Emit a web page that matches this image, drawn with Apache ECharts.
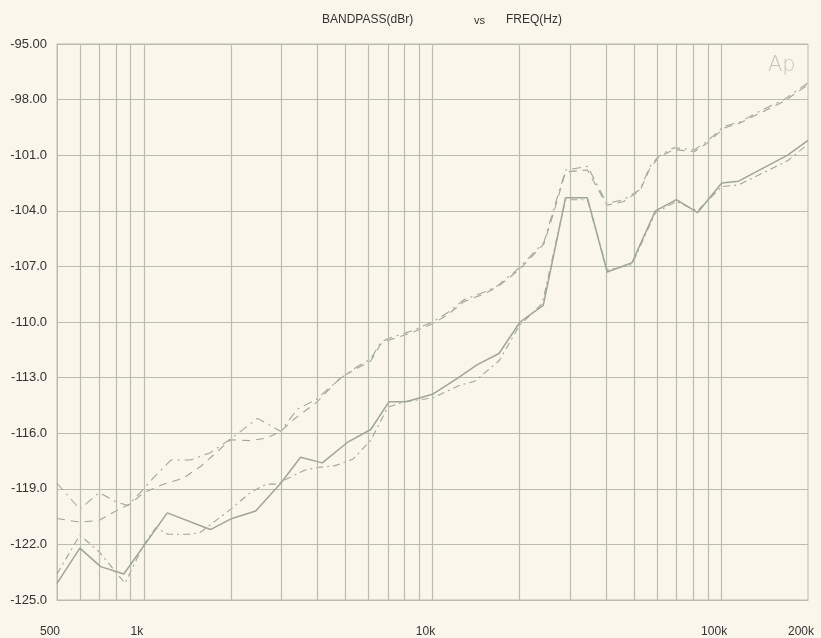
<!DOCTYPE html>
<html><head><meta charset="utf-8">
<script src="https://cdn.jsdelivr.net/npm/echarts@6/dist/echarts.min.js"></script>
<style>html,body{margin:0;padding:0;background:#faf6eb;}#c{width:821px;height:638px;}</style>
</head><body><div id="c"></div>
<script>
// ---- axis ticks / grid ----
const freqGrid = [600,700,800,900,1000,2000,3000,4000,5000,6000,7000,8000,9000,10000,20000,30000,40000,50000,60000,70000,80000,90000,100000];
const xTickValues = [500,1000,10000,100000,200000];
const xTickLabels = ["500","1k","10k","100k","200k"];
const yTickValues = [-125,-122,-119,-116,-113,-110,-107,-104,-101,-98,-95];
const yTickLabels = ["-125.0","-122.0","-119.0","-116.0","-113.0","-110.0","-107.0","-104.0","-101.0","-98.00","-95.00"];

// ---- series: solid trace ----
const solidF = [500,600,708,852,1205,1700,2020,2440,2980,3490,4150,5070,6110,7070,8100,10000,12300,14300,17000,20100,24200,28900,34400,40300,49100,59200,70000,82800,100500,115000,170000,200000];
const solidV = [-124.1,-122.2,-123.2,-123.6,-120.3,-121.2,-120.6,-120.2,-118.7,-117.3,-117.6,-116.5,-115.8,-114.3,-114.3,-113.9,-113.0,-112.3,-111.7,-110.0,-109.1,-103.3,-103.3,-107.3,-106.8,-104.0,-103.4,-104.1,-102.5,-102.4,-101.0,-100.2];

// ---- series: lower dash-dot trace ----
const lowerF = [500,600,700,860,1000,1100,1210,1450,1570,2000,2340,2650,2900,3050,3600,4000,4600,5300,6100,7000,8000,10000,12500,14000,17000,20000,24000,28900,34400,40300,49100,59200,70000,82800,100500,115000,170000,200000];
const lowerV = [-123.6,-121.5,-122.4,-124.1,-122.0,-121.1,-121.45,-121.45,-121.35,-120.1,-119.2,-118.75,-118.75,-118.55,-118.0,-117.85,-117.75,-117.4,-116.4,-114.6,-114.3,-114.1,-113.4,-113.2,-112.1,-110.2,-109.0,-103.4,-103.4,-107.2,-106.9,-104.1,-103.5,-104.0,-102.7,-102.6,-101.3,-100.4];

// ---- series: upper dashed trace ----
const dashF = [500,600,700,800,900,1000,1170,1360,1570,2000,2340,2680,2980,3310,3990,4800,5490,6110,6610,7000,8400,10000,11300,12850,15000,16800,19900,24300,26300,28900,34400,40200,46000,52400,56700,60900,68500,80900,89500,102000,116700,133300,165000,200000];
const dashV = [-120.6,-120.8,-120.7,-120.2,-119.8,-119.2,-118.75,-118.45,-117.8,-116.35,-116.4,-116.25,-115.9,-115.25,-114.3,-113.0,-112.5,-112.1,-111.2,-111.0,-110.6,-110.1,-109.6,-108.9,-108.5,-108.1,-107.2,-105.8,-104.1,-101.9,-101.8,-103.7,-103.5,-102.9,-101.7,-101.1,-100.7,-100.8,-100.35,-99.55,-99.25,-98.8,-98.1,-97.2];

// ---- series: upper dash-dot trace ----
const dotF = [500,600,700,800,880,1000,1080,1240,1450,1700,2025,2475,2680,2980,3400,3940,4740,5490,6110,6610,7000,8400,10000,11270,12850,15050,16800,19900,24320,26300,28950,34440,40200,46000,52400,56700,60900,68500,80900,89500,102000,116700,133300,165000,200000];
const dotV = [-118.7,-120.1,-119.2,-119.7,-119.9,-119.0,-118.4,-117.45,-117.45,-117.05,-116.25,-115.2,-115.5,-115.9,-114.7,-114.2,-113.1,-112.4,-112.0,-111.1,-110.9,-110.5,-110.0,-109.5,-108.8,-108.4,-108.05,-107.1,-105.7,-103.9,-101.8,-101.6,-103.6,-103.4,-102.85,-101.6,-101.05,-100.6,-100.7,-100.25,-99.45,-99.2,-98.7,-98.0,-97.1];

const zip = (f, v) => f.map((x, i) => [x, v[i]]);
const gridColor = '#b9bdac';
const lineColor = '#9fa693';

function xLabel(v) {
  for (let i = 0; i < xTickValues.length; i++) {
    if (Math.abs(Math.log10(v) - Math.log10(xTickValues[i])) < 0.005) return xTickLabels[i];
  }
  return '';
}
function yLabel(v) {
  for (let i = 0; i < yTickValues.length; i++) {
    if (Math.abs(v - yTickValues[i]) < 0.01) return yTickLabels[i];
  }
  return '';
}

const chart = echarts.init(document.getElementById('c'), null, {renderer: 'canvas'});
chart.setOption({
  animation: false,
  backgroundColor: '#faf6eb',
  textStyle: {fontFamily: 'Liberation Sans, Arial, sans-serif'},
  title: [
    {text: 'BANDPASS(dBr)', left: 317, top: 9, textStyle: {fontSize: 12, fontWeight: 'normal', color: '#333'}},
    {text: 'vs', left: 469, top: 10, textStyle: {fontSize: 11, fontWeight: 'normal', color: '#333'}},
    {text: 'FREQ(Hz)', left: 501, top: 9, textStyle: {fontSize: 12, fontWeight: 'normal', color: '#333'}}
  ],
  graphic: [
    {type: 'text', left: 768, top: 55, style: {text: 'Ap', fontSize: 21, fontFamily: 'DejaVu Sans', fontWeight: 200, fill: '#c3c5b8'}}
  ],
  grid: {left: 57, right: 13, top: 44, bottom: 37, show: true, borderColor: gridColor, borderWidth: 1, backgroundColor: 'transparent'},
  xAxis: {
    type: 'log', logBase: 10, min: 500, max: 200000,
    axisLine: {show: true, lineStyle: {color: gridColor}},
    axisTick: {show: false},
    splitLine: {show: false},
    minorSplitLine: {show: false},
    axisLabel: {formatter: xLabel, color: '#333', fontSize: 12, margin: 26, padding: [0, 14, 0, 0], showMinLabel: true, showMaxLabel: true}
  },
  yAxis: {
    type: 'value', min: -125, max: -95, interval: 3,
    axisLine: {show: true, lineStyle: {color: gridColor}},
    axisTick: {show: false},
    splitLine: {show: true, lineStyle: {color: gridColor, width: 1.2}},
    axisLabel: {formatter: yLabel, color: '#333', fontSize: 13, margin: 10, padding: [6, 0, 0, 0]}
  },
  series: [
    {
      type: 'line', data: [], z: 1, silent: true,
      markLine: {
        silent: true, symbol: ['none', 'none'], animation: false,
        label: {show: false},
        lineStyle: {color: gridColor, width: 1.2, type: 'solid'},
        emphasis: {disabled: true},
        data: freqGrid.map(f => ({xAxis: f}))
      }
    },
    {name: 'solid', type: 'line', data: zip(solidF, solidV), showSymbol: false, z: 5,
     lineStyle: {color: lineColor, width: 1.5, type: 'solid'}},
    {name: 'lower', type: 'line', data: zip(lowerF, lowerV), showSymbol: false, z: 4,
     lineStyle: {color: lineColor, width: 1.1, type: [7, 4, 2, 4]}},
    {name: 'upperDash', type: 'line', data: zip(dashF, dashV), showSymbol: false, z: 4,
     lineStyle: {color: lineColor, width: 1.1, type: [8, 6]}},
    {name: 'upperDot', type: 'line', data: zip(dotF, dotV), showSymbol: false, z: 4,
     lineStyle: {color: lineColor, width: 1.1, type: [9, 5, 2, 5]}}
  ]
});
</script></body></html>
